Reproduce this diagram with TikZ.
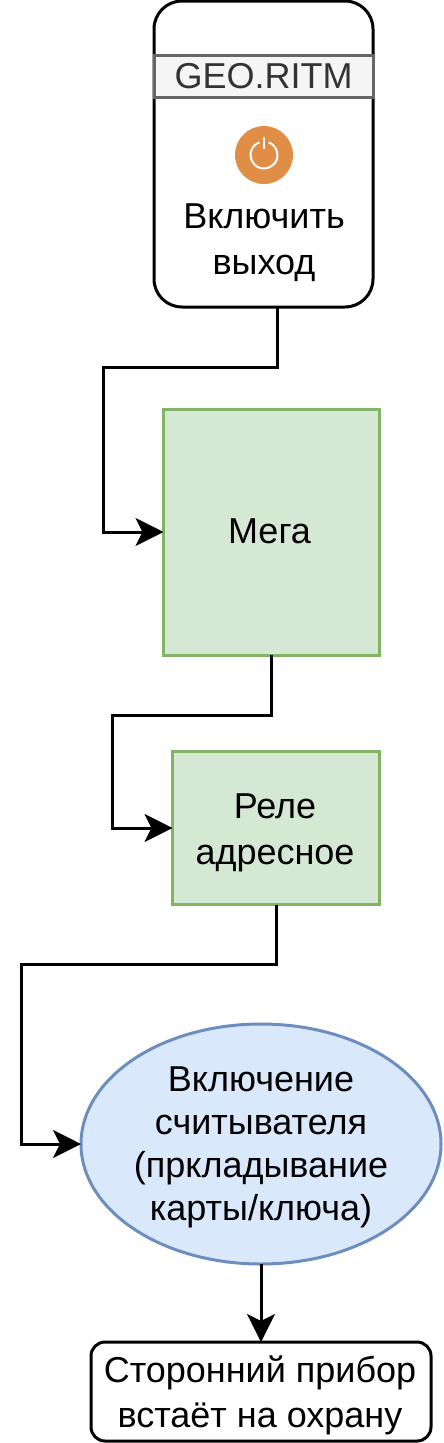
\documentclass[tikz,border=0pt]{standalone}
\usepackage{fontspec}
\setmainfont{Liberation Sans}
\usetikzlibrary{arrows.meta,shapes.geometric,calc}
\definecolor{greenfill}{HTML}{D5E8D4}
\definecolor{greenline}{HTML}{82B366}
\definecolor{bluefill}{HTML}{DAE8FC}
\definecolor{blueline}{HTML}{6C8EBF}
\definecolor{bandfill}{HTML}{F5F5F5}
\definecolor{bandline}{HTML}{666666}
\definecolor{bandtext}{HTML}{333333}
\definecolor{powerfill}{HTML}{E08E45}
\tikzset{
  x=1pt,y=-1pt,
  lbl/.style={align=center,font=\fontsize{36}{46}\selectfont,text=black,inner sep=0pt,outer sep=0pt},
  lblb/.style={align=center,font=\fontsize{36}{#1}\selectfont,text=black,inner sep=0pt,outer sep=0pt},
  roundbox/.style={draw=black,line width=3pt,fill=white,rounded corners=#1,inner sep=0pt,outer sep=0pt},
  greenbox/.style={draw=greenline,fill=greenfill,line width=3pt,inner sep=0pt,outer sep=0pt},
  conn/.style={draw=black,line width=3pt,-{Stealth[length=28pt,width=28pt,inset=7pt]}},
}
\begin{document}
\begin{tikzpicture}
\useasboundingbox (0,0) rectangle (444,1443);
\node[roundbox=28pt,minimum width=219pt,minimum height=306pt] (top) at (263.5,154) {};
\node[draw=bandline,fill=bandfill,line width=3pt,minimum width=219pt,minimum height=42pt,inner sep=0pt,outer sep=0pt,font=\fontsize{36}{40}\selectfont,text=bandtext] (band) at (263.5,76) {GEO.RITM};
\node[circle,fill=powerfill,minimum size=58pt,inner sep=0pt] (power) at (264,155) {};
\draw[white,line width=2pt] ($(power.center)+(0,-18)$) -- ($(power.center)+(0,-6)$);
\draw[white,line width=2pt] ($(power.center)+(-70:13.5)$) arc[start angle=-70,end angle=250,radius=13.5];
\node[lbl] (toptext) at (264,242.500) {Включить\\выход};
\node[greenbox,minimum width=216pt,minimum height=246pt,label={[lbl,xshift=-2pt,yshift=1pt]center:Мега}] (mega) at (271.5,532) {};
\node[greenbox,minimum width=207pt,minimum height=153pt,label={[lbl,xshift=-1pt,yshift=-5pt]center:{Реле\\адресное}}] (rele) at (276,828) {};
\node[ellipse,draw=blueline,fill=bluefill,line width=3pt,minimum width=360pt,minimum height=240pt,inner sep=0pt,outer sep=0pt,label={[lblb=43,yshift=-3pt]center:{Включение\\считывателя\\(пркладывание\\карты/ключа)}}] (read) at (261,1144) {};
\node[roundbox=14pt,minimum width=340pt,minimum height=99pt,label={[lblb=45,xshift=-1pt,yshift=-4pt]center:{Сторонний прибор\\встаёт на охрану}}] (last) at (261,1391.500) {};
\draw[conn] ([xshift=13.5pt]top.south) -- ++(0,60) -| (103,532) -- (mega.west);
\draw[conn] (mega.south) -- ++(0,60) -| (112,828) -- (rele.west);
\draw[conn] (rele.south) -- ++(0,60) -| (21,1144) -- (read.west);
\draw[conn] (read.south) -- (last.north);
\end{tikzpicture}
\end{document}
